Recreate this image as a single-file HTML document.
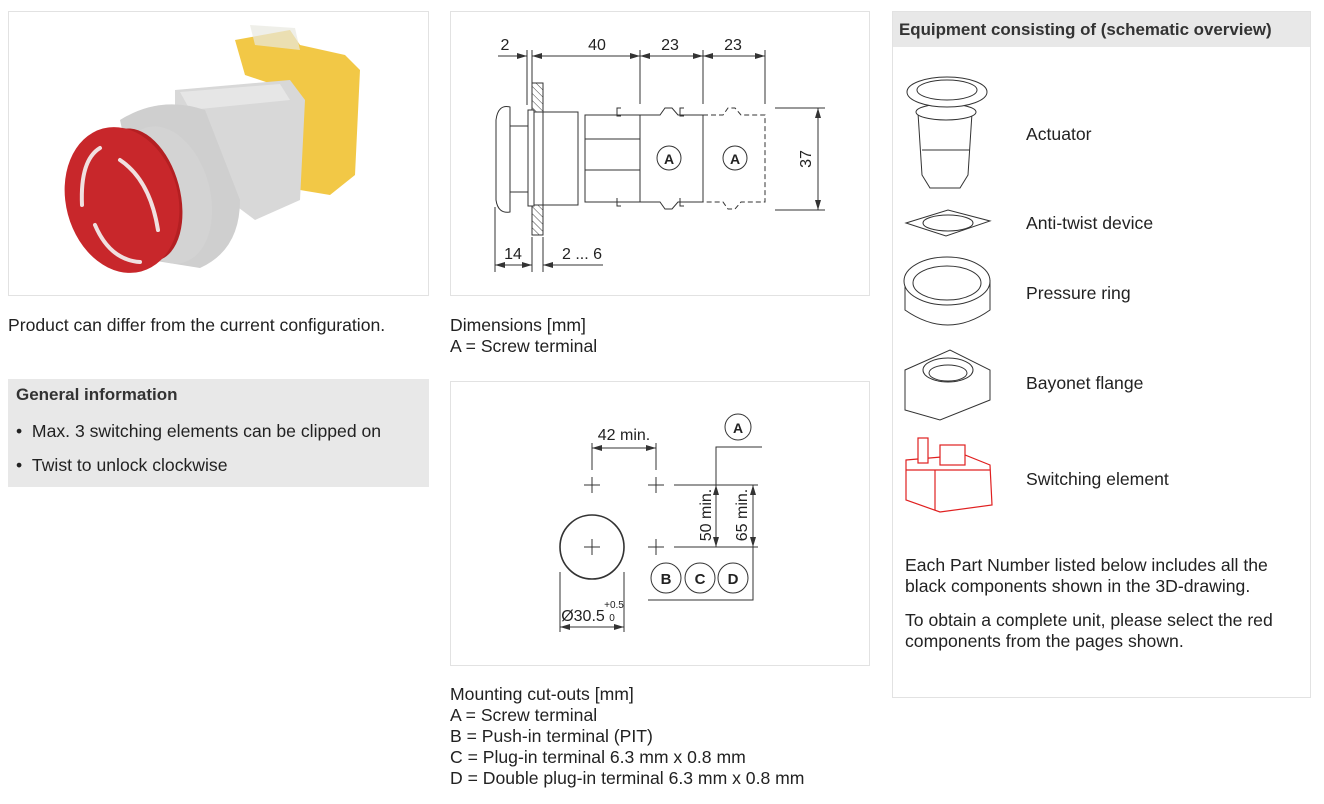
<!DOCTYPE html>
<html><head><meta charset="utf-8"><style>
body{margin:0;width:1324px;height:804px;background:#fff;font-family:"Liberation Sans",Arial,sans-serif;color:#222;position:relative;overflow:hidden}
.t{position:absolute;font-size:17.6px;line-height:20px;white-space:nowrap}
.box{position:absolute;border:1px solid #e2e2e2;box-sizing:border-box}
</style></head><body>
<div class="box" style="left:8px;top:11px;width:421px;height:285px"></div>
<div class="box" style="left:450px;top:11px;width:420px;height:285px"></div>
<div class="box" style="left:450px;top:381px;width:420px;height:285px"></div>
<div class="box" style="left:892px;top:11px;width:419px;height:687px"></div>
<div style="position:absolute;left:893px;top:12px;width:417px;height:35px;background:#e8e8e8"></div>
<div class="t" style="left:899px;top:20px;font-weight:bold;font-size:16.9px;color:#333">Equipment consisting of (schematic overview)</div>
<div style="position:absolute;left:8px;top:379px;width:421px;height:108px;background:#e8e8e8"></div>
<div class="t" style="left:16px;top:385px;font-weight:bold;font-size:17px;color:#333">General information</div>
<div class="t" style="left:16px;top:421px">•&nbsp;&nbsp;Max. 3 switching elements can be clipped on</div>
<div class="t" style="left:16px;top:455px">•&nbsp;&nbsp;Twist to unlock clockwise</div>
<div class="t" style="left:8px;top:315px">Product can differ from the current configuration.</div>
<div class="t" style="left:450px;top:315px;line-height:21px">Dimensions [mm]<br>A = Screw terminal</div>
<div class="t" style="left:450px;top:684px;line-height:21px">Mounting cut-outs [mm]<br>A = Screw terminal<br>B = Push-in terminal (PIT)<br>C = Plug-in terminal 6.3 mm x 0.8 mm<br>D = Double plug-in terminal 6.3 mm x 0.8 mm</div>
<div class="t" style="left:1026px;top:124px">Actuator</div>
<div class="t" style="left:1026px;top:213px">Anti-twist device</div>
<div class="t" style="left:1026px;top:283px">Pressure ring</div>
<div class="t" style="left:1026px;top:373px">Bayonet flange</div>
<div class="t" style="left:1026px;top:469px">Switching element</div>
<div class="t" style="left:905px;top:555px;line-height:21px">Each Part Number listed below includes all the<br>black components shown in the 3D-drawing.</div>
<div class="t" style="left:905px;top:610px;line-height:21px">To obtain a complete unit, please select the red<br>components from the pages shown.</div>

<svg width="1324" height="804" style="position:absolute;left:0;top:0" font-family="Liberation Sans, Arial, sans-serif">
<defs>
<marker id="ar" viewBox="0 0 10 6" refX="10" refY="3" markerWidth="10" markerHeight="6" orient="auto-start-reverse" markerUnits="userSpaceOnUse"><path d="M0,0L10,3L0,6z" fill="#333"/></marker>
<pattern id="h" width="5" height="5" patternUnits="userSpaceOnUse" patternTransform="rotate(-45)"><line x1="0" y1="0" x2="0" y2="5" stroke="#444" stroke-width="1"/></pattern>
</defs>
<g>
<polygon points="235,40 290,30 300,45 345,55 360,70 355,175 330,195 300,190 290,90 245,75" fill="#f1c232" opacity=".9"/>
<polygon points="250,25 295,28 300,50 255,45" fill="#e8e8e0" opacity=".7"/>
<polygon points="175,90 290,80 305,100 300,200 255,220 175,160" fill="#d8d8d8"/>
<polygon points="180,92 280,84 290,100 190,110" fill="#e6e6e6"/>
<path d="M120,120 Q160,95 205,110 L240,200 Q240,250 200,268 L150,260 Z" fill="#cfcfcf"/>
<ellipse cx="165" cy="195" rx="45" ry="70" fill="#d3d3d3" transform="rotate(-15 165 195)"/>
<ellipse cx="140" cy="195" rx="40" ry="68" fill="#b41f22" transform="rotate(-15 140 195)"/>
<ellipse cx="122" cy="200" rx="56" ry="74" fill="#c8272b" transform="rotate(-15 122 200)"/>
<g fill="none" stroke="#f0e0e0" stroke-width="4" stroke-linecap="round">
<path d="M82,205 Q80,160 100,148"/><path d="M120,160 Q150,180 158,230"/><path d="M95,225 Q110,260 140,262"/>
</g>
</g>
<g stroke="#333" stroke-width="1" fill="none">
<line x1="527" y1="50" x2="527" y2="105"/><line x1="532" y1="50" x2="532" y2="83"/>
<line x1="640" y1="50" x2="640" y2="104"/><line x1="703" y1="50" x2="703" y2="104"/><line x1="765" y1="50" x2="765" y2="104"/>
<line x1="498" y1="56" x2="527" y2="56" marker-end="url(#ar)"/>
<line x1="532" y1="56" x2="640" y2="56" marker-start="url(#ar)" marker-end="url(#ar)"/>
<line x1="640" y1="56" x2="703" y2="56" marker-start="url(#ar)" marker-end="url(#ar)"/>
<line x1="703" y1="56" x2="765" y2="56" marker-start="url(#ar)" marker-end="url(#ar)"/>
<rect x="532" y="83" width="11" height="152" fill="url(#h)"/>
<line x1="532" y1="83" x2="532" y2="235"/><line x1="543" y1="83" x2="543" y2="235"/>
<path d="M510,107 Q498,104 496,120 L496,200 Q498,214 510,212 Z" fill="#fff"/>
<rect x="510" y="126" width="18" height="66" fill="#fff"/>
<rect x="528" y="110" width="6" height="96" fill="#fff"/>
<rect x="534" y="112" width="10" height="93" fill="#fff"/>
<rect x="543" y="112" width="35" height="93" fill="#fff"/>
<rect x="585" y="115" width="55" height="87" fill="#fff"/>
<line x1="585" y1="139" x2="640" y2="139"/><line x1="585" y1="170" x2="640" y2="170"/>
<path d="M640,115 L660,115 L665,108 L672,108 L678,115 L703,115 L703,202 L678,202 L672,209 L665,209 L660,202 L640,202 Z" fill="#fff"/>
<path d="M703,115 L723,115 L728,108 L735,108 L741,115 L765,115 L765,202 L741,202 L735,209 L728,209 L723,202 L703,202" stroke-dasharray="5,3"/>
<circle cx="669" cy="158" r="12"/><circle cx="735" cy="158" r="12"/>
<path d="M621,108 h-4 v8 h4 M621,202 h4 M617,198 v8 h4 M684,108 h-4 v8 h4 M680,198 v8 h4"/>
<line x1="775" y1="108" x2="825" y2="108"/><line x1="775" y1="210" x2="825" y2="210"/>
<line x1="818" y1="108" x2="818" y2="210" marker-start="url(#ar)" marker-end="url(#ar)"/>
<line x1="495" y1="207" x2="495" y2="272"/><line x1="532" y1="237" x2="532" y2="272"/><line x1="543" y1="237" x2="543" y2="272"/>
<line x1="495" y1="265" x2="532" y2="265" marker-start="url(#ar)" marker-end="url(#ar)"/>
<line x1="603" y1="265" x2="543" y2="265" marker-end="url(#ar)"/>
</g>
<g font-size="16" fill="#222" text-anchor="middle">
<text x="505" y="50">2</text><text x="597" y="50">40</text><text x="670" y="50">23</text><text x="733" y="50">23</text>
<text x="513" y="259">14</text><text x="582" y="259">2 ... 6</text>
<text x="0" y="0" transform="translate(811,159) rotate(-90)">37</text>
<text x="669" y="164" font-weight="bold" font-size="14">A</text><text x="735" y="164" font-weight="bold" font-size="14">A</text>
</g>
<g stroke="#333" stroke-width="1" fill="none">
<line x1="592" y1="443" x2="592" y2="470"/><line x1="656" y1="443" x2="656" y2="470"/>
<line x1="592" y1="448" x2="656" y2="448" marker-start="url(#ar)" marker-end="url(#ar)"/>
<path d="M584,485h16M592,477v16M648,485h16M656,477v16M584,547h16M592,539v16M648,547h16M656,539v16"/>
<circle cx="592" cy="547" r="32" stroke-width="1.6"/>
<line x1="674" y1="485" x2="758" y2="485"/><line x1="674" y1="547" x2="758" y2="547"/>
<circle cx="738" cy="427" r="13"/>
<polyline points="762,447 716,447 716,547"/>
<line x1="716" y1="485" x2="716" y2="547" marker-start="url(#ar)" marker-end="url(#ar)"/>
<line x1="753" y1="485" x2="753" y2="547" marker-start="url(#ar)" marker-end="url(#ar)"/>
<polyline points="753,547 753,600 648,600"/>
<circle cx="666" cy="578" r="15"/><circle cx="700" cy="578" r="15"/><circle cx="733" cy="578" r="15"/>
<line x1="560" y1="572" x2="560" y2="632"/><line x1="624" y1="572" x2="624" y2="632"/>
<line x1="560" y1="627" x2="624" y2="627" marker-start="url(#ar)" marker-end="url(#ar)"/>
</g>
<g font-size="16" fill="#222" text-anchor="middle">
<text x="624" y="440">42 min.</text>
<text x="738" y="433" font-weight="bold" font-size="14">A</text>
<text x="666" y="584" font-weight="bold" font-size="15">B</text><text x="700" y="584" font-weight="bold" font-size="15">C</text><text x="733" y="584" font-weight="bold" font-size="15">D</text>
<text transform="translate(711,515) rotate(-90)">50 min.</text>
<text transform="translate(747,515) rotate(-90)">65 min.</text>
<text x="583" y="621">Ø30.5</text>
<text x="614" y="608" font-size="10">+0.5</text><text x="612" y="621" font-size="10">0</text>
</g>
<g stroke="#333" stroke-width="1" fill="#fff">
<path d="M918,113 L922,175 L930,188 L960,188 L968,175 L972,113 Z"/>
<ellipse cx="946" cy="112" rx="30" ry="8"/>
<ellipse cx="947" cy="92" rx="40" ry="15"/>
<ellipse cx="947" cy="90" rx="30" ry="10"/>
<line x1="922" y1="150" x2="970" y2="150"/>
<polygon points="906,223 948,210 990,221 946,236"/>
<ellipse cx="948" cy="223" rx="25" ry="8"/>
<path d="M905,280 L905,310 Q948,340 990,310 L990,280"/>
<ellipse cx="947" cy="281" rx="43" ry="24"/>
<ellipse cx="947" cy="283" rx="34" ry="17"/>
<path d="M905,370 L905,410 L940,420 L990,400 L990,370 L950,350 Z"/>
<ellipse cx="948" cy="370" rx="25" ry="12"/>
<ellipse cx="948" cy="373" rx="19" ry="8"/>
</g>
<g stroke="#e02020" stroke-width="1.2" fill="#fff">
<polygon points="906,460 965,455 990,465 992,505 940,512 906,500"/>
<rect x="918" y="438" width="10" height="25"/><rect x="940" y="445" width="25" height="20"/>
<line x1="906" y1="470" x2="990" y2="470"/><line x1="935" y1="470" x2="935" y2="510"/>
</g>
</svg>
</body></html>
